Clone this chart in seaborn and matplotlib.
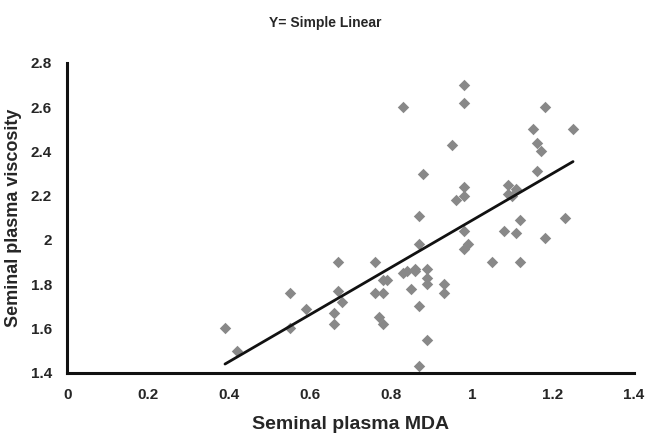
import matplotlib
matplotlib.use("Agg")
import matplotlib.pyplot as plt
import pandas as pd
import seaborn as sns

# values
mda = [0.39, 0.42, 0.55, 0.55, 0.59, 0.67, 0.67, 0.68, 0.66, 0.66,
       0.76, 0.76, 0.78, 0.78, 0.79, 0.77, 0.78, 0.83, 0.84, 0.86,
       0.86, 0.85, 0.87, 0.89, 0.89, 0.89, 0.87, 0.89, 0.87, 0.93,
       0.93, 0.83, 0.98, 0.98, 0.95, 0.88, 0.98, 0.98, 0.96, 0.87,
       0.98, 0.99, 0.98, 1.18, 1.15, 1.25, 1.16, 1.17, 1.16, 1.09,
       1.11, 1.09, 1.10, 1.12, 1.08, 1.11, 1.23, 1.18, 1.05, 1.12]
viscosity = [1.60, 1.50, 1.76, 1.60, 1.69, 1.90, 1.77, 1.72, 1.67, 1.62,
             1.90, 1.76, 1.76, 1.82, 1.82, 1.65, 1.62, 1.85, 1.86, 1.86,
             1.87, 1.78, 1.98, 1.87, 1.83, 1.80, 1.70, 1.55, 1.43, 1.80,
             1.76, 2.60, 2.70, 2.62, 2.43, 2.30, 2.24, 2.20, 2.18, 2.11,
             2.04, 1.98, 1.96, 2.60, 2.50, 2.50, 2.44, 2.40, 2.31, 2.25,
             2.23, 2.21, 2.20, 2.09, 2.04, 2.03, 2.10, 2.01, 1.90, 1.90]
x_ticks = [0, 0.2, 0.4, 0.6, 0.8, 1, 1.2, 1.4]
x_tick_labels = ["0", "0.2", "0.4", "0.6", "0.8", "1", "1.2", "1.4"]
y_ticks = [1.4, 1.6, 1.8, 2.0, 2.2, 2.4, 2.6, 2.8]
y_tick_labels = ["1.4", "1.6", "1.8", "2", "2.2", "2.4", "2.6", "2.8"]

df = pd.DataFrame({"Seminal plasma MDA": mda, "Seminal plasma viscosity": viscosity})

sns.set_style("white")
plt.rcParams["font.family"] = ["Liberation Sans Narrow", "Liberation Sans", "DejaVu Sans"]

fig = plt.figure(figsize=(6.46, 4.37), dpi=100)
ax = fig.add_axes([0.104, 0.147, 0.877, 0.709])

sns.regplot(data=df, x="Seminal plasma MDA", y="Seminal plasma viscosity", ax=ax,
            ci=None, truncate=True, marker="D",
            scatter_kws={"color": "#888888", "s": 34, "linewidths": 0, "alpha": 1},
            line_kws={"color": "#111111", "linewidth": 2.0})

ax.set_xlim(0, 1.4)
ax.set_ylim(1.4, 2.8)
ax.set_xticks(x_ticks)
ax.set_xticklabels(x_tick_labels, fontsize=11, fontweight="bold")
ax.set_yticks(y_ticks)
ax.set_yticklabels(y_tick_labels, fontsize=11, fontweight="bold")
ax.tick_params(axis="both", direction="out", length=5, width=2, color="#111111", pad=6)

for side in ["top", "right"]:
    ax.spines[side].set_visible(False)
for side in ["left", "bottom"]:
    ax.spines[side].set_linewidth(2.2)
    ax.spines[side].set_color("#111111")

ax.set_xlabel("Seminal plasma MDA", fontsize=14, fontweight="bold", labelpad=10)
ax.set_ylabel("Seminal plasma viscosity", fontsize=13, fontweight="bold", labelpad=6)
fig.text(0.503, 0.947, "Y= Simple Linear", ha="center", va="center", fontsize=10, fontweight="bold")

fig.savefig("out.png", dpi=100)
